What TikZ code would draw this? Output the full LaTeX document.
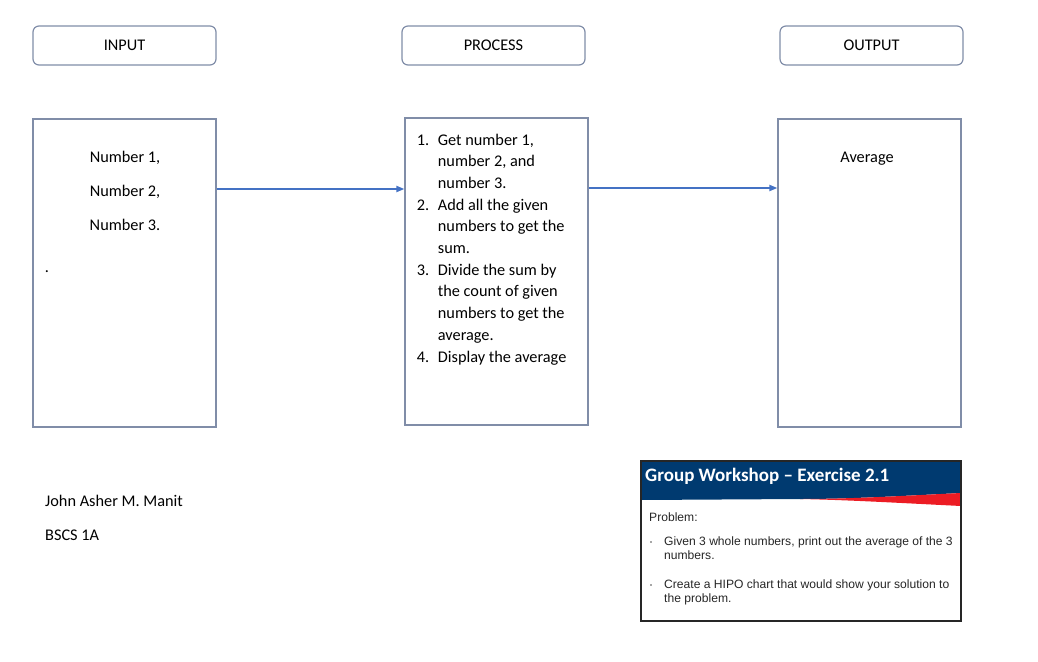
\documentclass[tikz,border=0pt]{standalone}
\usepackage{fontspec}
\setmainfont{Carlito}
\newfontfamily\arialfont{Liberation Sans}
\usetikzlibrary{arrows.meta}
\definecolor{boxline}{RGB}{128,141,168}
\definecolor{flowblue}{RGB}{68,114,196}
\definecolor{wsblue}{RGB}{0,58,112}
\definecolor{wsred}{RGB}{236,28,36}
\tikzset{
    headbox/.style={draw=boxline, line width=1.2pt, rounded corners=6pt, minimum width=183pt, minimum height=39pt, inner sep=0pt, font=\fontsize{16.3}{19}\selectfont},
    mainbox/.style={draw=boxline, line width=1.2pt, minimum width=183pt, inner sep=0pt},
    flow/.style={draw=flowblue, line width=1.8pt, -{Triangle[length=8pt,width=6pt]}},
    txt/.style={anchor=base, inner sep=0pt, font=\fontsize{16.3}{19}\selectfont},
    wstxt/.style={anchor=base west, inner sep=0pt, text=black!85, font=\arialfont\fontsize{12.1}{14}\selectfont}
}
\begin{document}
\begin{tikzpicture}[x=1pt, y=-1pt]
            \useasboundingbox (0,0) rectangle (1038,661);

            %%headers
            \node[headbox] (inhead) at (124.5,45.5){INPUT};
            \node[headbox] (prochead) at (493.5,45.5){PROCESS};
            \node[headbox] (outhead) at (871.5,45.5){OUTPUT};

            %%boxes
            \node[mainbox, minimum height=308pt] (inbox) at (124.5,273){};
                \node[txt] (num1) at (125,162){Number 1,};
                \node[txt] (num2) at (125,196){Number 2,};
                \node[txt] (num3) at (125,230){Number 3.};
                \node[txt] (dot) at (47,272){.};

            \node[mainbox, minimum height=307pt] (procbox) at (496.5,271.5){};
                \node[anchor=base west, inner sep=0pt] (steps) at (416.7,145){\fontsize{16.3}{21.7}\selectfont
                    \begin{tabular}[t]{@{}p{21pt}@{}l@{}}
                        1. & Get number 1,\\
                           & number 2, and\\
                           & number 3.\\
                        2. & Add all the given\\
                           & numbers to get the\\
                           & sum.\\
                        3. & Divide the sum by\\
                           & the count of given\\
                           & numbers to get the\\
                           & average.\\
                        4. & Display the average
                    \end{tabular}};

            \node[mainbox, minimum height=308pt] (outbox) at (869.5,273){};
                \node[txt] (avg) at (867,162){Average};

            %%flow
            \draw[flow] (inbox.east |- 0,189) to (procbox.west |- 0,189);
            \draw[flow] (procbox.east |- 0,188) to (outbox.west |- 0,188);

            %%name
            \node[txt, anchor=base west] (name) at (45,506){John Asher M. Manit};
            \node[txt, anchor=base west] (course) at (45,540){BSCS 1A};

            %%workshop
            \fill[wsblue] (641,461) -- (961,461) -- (961,493) .. controls (900,496) and (850,499) .. (800,499) -- (641,500) -- cycle;
            \fill[wsred] (800,499) .. controls (850,500) and (900,503) .. (961,506) -- (961,493) .. controls (900,496) and (850,499) .. (800,499) -- cycle;
            \draw[black!85, line width=1.2pt] (641,461) rectangle (961,621);
                \node[anchor=base west, inner sep=0pt, text=white, font=\bfseries\fontsize{19}{22}\selectfont] (wstitle) at (645,481.5){Group Workshop – Exercise 2.1};
                \node[wstxt] (prob) at (649,521){Problem:};
                \fill[black!70] (651,542) circle (0.8);
                \node[wstxt] (given) at (664,545.7){Given 3 whole numbers, print out the average of the 3};
                \node[wstxt] (given2) at (664,559){numbers.};
                \fill[black!70] (651,585) circle (0.8);
                \node[wstxt] (create) at (664,588.3){Create a HIPO chart that would show your solution to};
                \node[wstxt] (create2) at (664,602.7){the problem.};

\end{tikzpicture}
\end{document}
